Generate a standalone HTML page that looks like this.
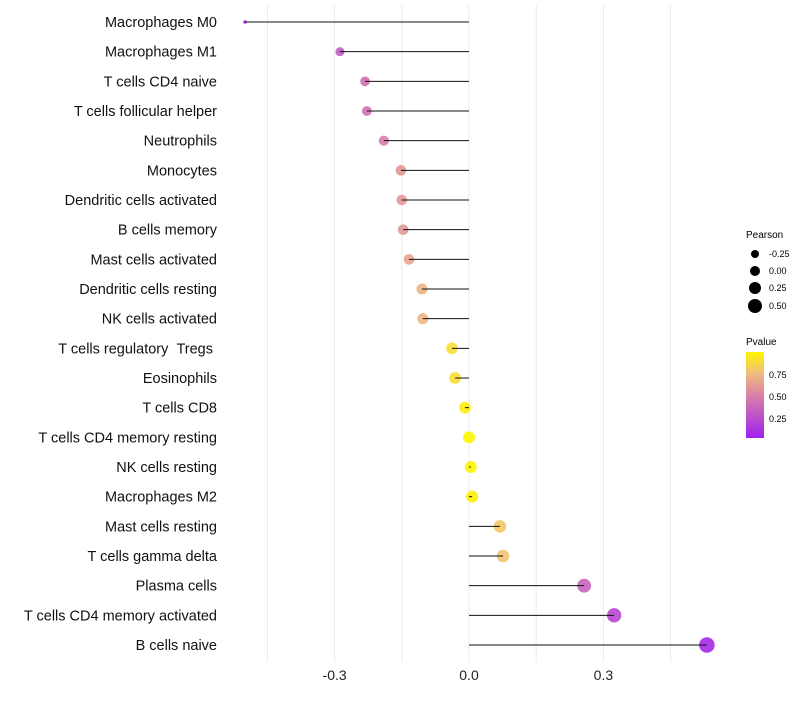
<!DOCTYPE html>
<html><head><meta charset="utf-8"><style>
body{margin:0;background:#fff;font-family:"Liberation Sans",sans-serif;}
</style></head><body>
<svg id="chart" width="800" height="700" xmlns="http://www.w3.org/2000/svg">
<defs><linearGradient id="pg" x1="0" y1="1" x2="0" y2="0">
<stop offset="0" stop-color="#A020F0"/><stop offset="0.5" stop-color="#D982A5"/><stop offset="0.75" stop-color="#F0BC80"/><stop offset="1" stop-color="#FFF500"/></linearGradient></defs>
<g id="grid"></g><g id="marks"></g><g id="stems"></g><g id="labels"></g>
<g font-size="9">
<text x="746" y="238" font-size="10">Pearson</text>
<circle cx="755" cy="254" r="4"/><text x="769" y="257">-0.25</text>
<circle cx="755" cy="271" r="5"/><text x="769" y="274">0.00</text>
<circle cx="755" cy="288" r="6"/><text x="769" y="291">0.25</text>
<circle cx="755" cy="306" r="7"/><text x="769" y="309">0.50</text>
<text x="746" y="345" font-size="10">Pvalue</text>
<rect x="746" y="352" width="18" height="86" fill="url(#pg)"/>
<text x="769" y="378">0.75</text><text x="769" y="400">0.50</text><text x="769" y="422">0.25</text>
</g>
</svg>
<script>
const categories=["Macrophages M0","Macrophages M1","T cells CD4 naive","T cells follicular helper","Neutrophils","Monocytes","Dendritic cells activated","B cells memory","Mast cells activated","Dendritic cells resting","NK cells activated","T cells regulatory \u00a0Tregs\u00a0","Eosinophils","T cells CD8","T cells CD4 memory resting","NK cells resting","Macrophages M2","Mast cells resting","T cells gamma delta","Plasma cells","T cells CD4 memory activated","B cells naive"];
const pearson=[-0.5,-0.288,-0.232,-0.228,-0.19,-0.152,-0.15,-0.147,-0.134,-0.105,-0.103,-0.038,-0.031,-0.009,0.0,0.004,0.007,0.069,0.076,0.257,0.324,0.531];
const pvalues=[0.02,0.3,0.4,0.42,0.48,0.6,0.6,0.6,0.65,0.72,0.73,0.9,0.9,0.97,1.0,0.99,0.98,0.8,0.78,0.35,0.2,0.05];
const tickVals=[-0.3,0.0,0.3];
const tickLabels=["-0.3","0.0","0.3"];
const gridVals=[-0.45,-0.3,-0.15,0,0.15,0.3,0.45];
const NS="http://www.w3.org/2000/svg";
const x=v=>469+v*448;
const y=i=>22+i*(623/21);
const r=v=>1.8+Math.sqrt(Math.max(0,(v+0.5)/1.03))*6;
function lerp(a,b,t){return a.map((c,k)=>Math.round(c+(b[k]-c)*t));}
function col(p){const a=[160,32,240],m=[217,130,165],q=[240,188,128],b=[255,245,0];
let c;if(p<0.5)c=lerp(a,m,p/0.5);else if(p<0.75)c=lerp(m,q,(p-0.5)/0.25);else c=lerp(q,b,(p-0.75)/0.25);return `rgb(${c})`;}
function mk(t,at,parent){const e=document.createElementNS(NS,t);for(const k in at)e.setAttribute(k,at[k]);parent.appendChild(e);return e;}
const G=document.getElementById('grid'),M=document.getElementById('marks'),S=document.getElementById('stems'),L=document.getElementById('labels');
gridVals.forEach(v=>{const g=mk('line',{x1:x(v),x2:x(v),y1:5,y2:662,stroke:'#ebebeb','stroke-width':1},G);

});
tickVals.forEach((v,i)=>{const t=mk('text',{x:x(v),y:680,'text-anchor':'middle','font-size':14,fill:'#222'},L);t.textContent=tickLabels[i];

});
categories.forEach((c,i)=>{
const t=mk('text',{x:217,y:y(i)+5,'text-anchor':'end','font-size':14.5,fill:'#111'},L);t.textContent=c;


const d=mk('circle',{cx:x(pearson[i]),cy:y(i),r:r(pearson[i]),fill:col(pvalues[i]),'fill-opacity':0.9},M);


const ln=mk('line',{x1:x(0),x2:x(pearson[i]),y1:y(i),y2:y(i),stroke:'#111','stroke-width':1},S);


});
</script>
</body></html>
